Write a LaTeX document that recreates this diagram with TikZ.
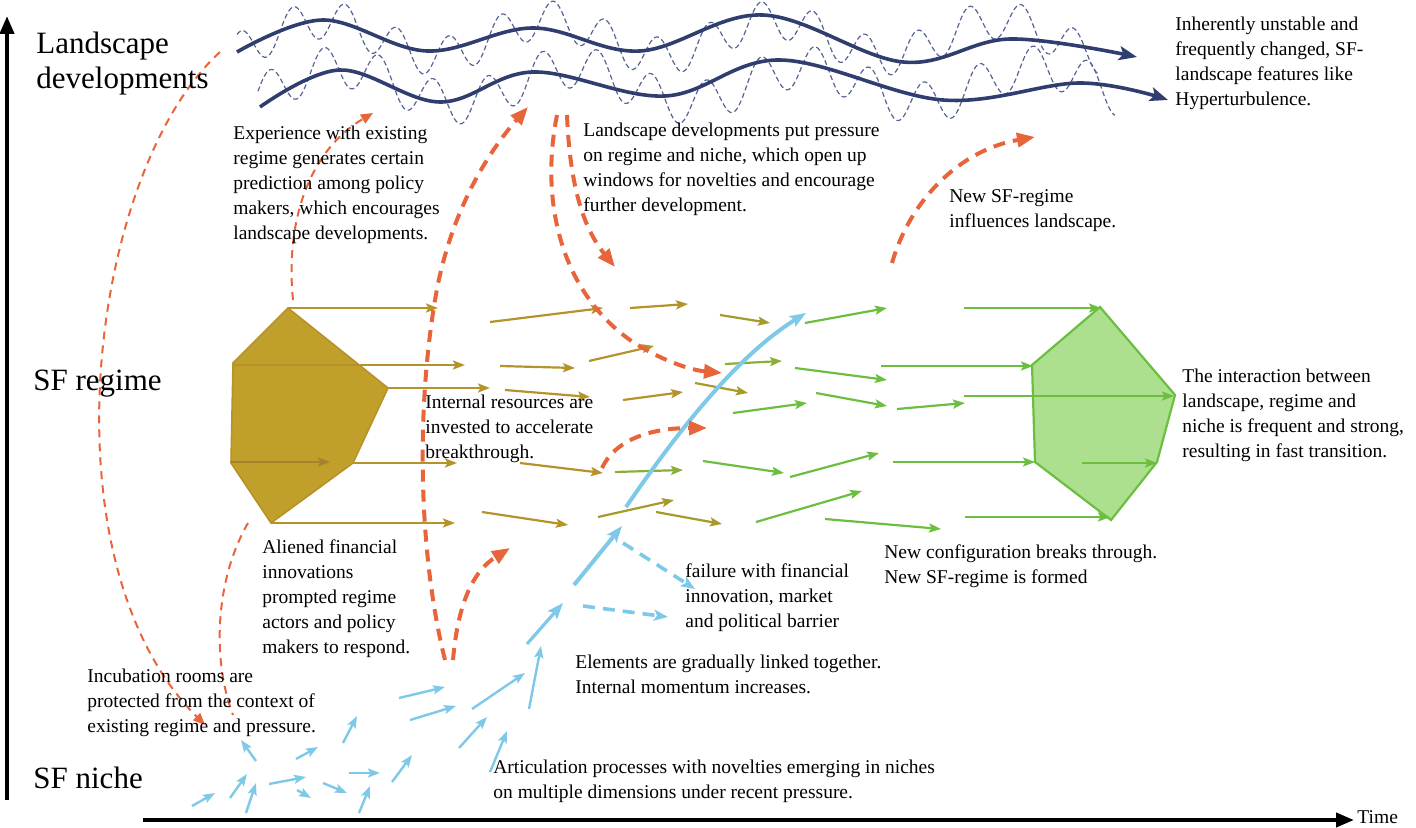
\documentclass[tikz,border=0pt]{standalone}
\usepackage{fontspec}
\setmainfont{Liberation Serif}
\usetikzlibrary{arrows.meta}
\definecolor{navy}{RGB}{47,62,110}
\definecolor{navyl}{RGB}{85,100,148}
\definecolor{orng}{RGB}{232,100,58}
\definecolor{gold}{RGB}{192,160,42}
\definecolor{goldln}{RGB}{182,146,42}
\definecolor{goldin}{RGB}{165,130,48}
\definecolor{olv}{RGB}{165,155,45}
\definecolor{olvg}{RGB}{138,175,55}
\definecolor{grn}{RGB}{108,190,64}
\definecolor{grnf}{RGB}{172,224,142}
\definecolor{sky}{RGB}{126,200,232}
\begin{document}
\begin{tikzpicture}[x=0.5pt,y=-0.5pt,
  txt/.style={anchor=base west, inner sep=0pt, align=left, font=\fontsize{9.75pt}{12.5pt}\selectfont, text=black},
  big/.style={anchor=base west, inner sep=0pt, align=left, font=\fontsize{15.5pt}{17.5pt}\selectfont, text=black},
  thintip/.style={-{Stealth[length=6pt,width=4.5pt,inset=1.2pt]}},
  ga/.style={draw=goldln, line width=1.1pt, thintip},
  gi/.style={draw=goldin, line width=1.1pt, thintip},
  oa/.style={draw=olv, line width=1.1pt, thintip},
  og/.style={draw=olvg, line width=1.1pt, thintip},
  gr/.style={draw=grn, line width=1.1pt, thintip},
  ba/.style={draw=sky, line width=1.2pt, thintip},
  bthick/.style={draw=sky, line width=2pt, -{Stealth[length=8pt,width=6pt,inset=1.5pt]}},
  bdash/.style={draw=sky, line width=1.8pt, dash pattern=on 6pt off 4pt, -{Stealth[length=7pt,width=5.5pt,inset=1.5pt]}},
  othick/.style={draw=orng, line width=2pt, dash pattern=on 6pt off 4pt, -{Triangle[length=9pt,width=7pt]}},
  othin/.style={draw=orng, line width=1pt, dash pattern=on 4pt off 3pt},
  axis/.style={draw=black, line width=2pt, -{Triangle[length=9pt,width=7pt]}},
  wave/.style={draw=navy, line width=1.8pt, -{Stealth[length=9pt,width=7pt,inset=2pt]}},
  dwave/.style={draw=navyl, line width=0.6pt, dash pattern=on 2.5pt off 1.5pt}
]
\useasboundingbox (0,0) rectangle (1416,828);

% axes
\coordinate (yb) at (7,800);
\coordinate (yt) at (7,16);
\coordinate (xl) at (143,820);
\coordinate (xr) at (1354,820);
\draw[axis] (yb) -- (yt);
\draw[axis] (xl) -- (xr);

% landscape waves
\draw[dwave, domain=237:1100, samples=500, smooth] plot (\x, {38-18*cos((\x-323)*1.6)+19*sin((\x-267)*6.92+90)});
\draw[dwave, domain=258:1115, samples=500, smooth] plot (\x, {85-18*cos((\x-340)*1.55)+21*sin((\x-297)*6.6+90)});
\draw[wave] plot[smooth, tension=0.6] coordinates {(237,52) (323,20) (427,51) (533,28) (640,51) (763,15) (903,62) (1010,39) (1137,57)};
\draw[wave] plot[smooth, tension=0.6] coordinates {(260,107) (340,70) (440,102) (533,72) (665,96) (780,60) (943,100) (1080,83) (1168,100)};

% regime pentagon (old)
\coordinate (p1) at (288,308);
\coordinate (p2) at (388,388);
\coordinate (p3) at (353,463);
\coordinate (p4) at (271,523);
\coordinate (p5) at (231,463);
\coordinate (p6) at (233,363);
\filldraw[fill=gold, draw=goldln, line width=0.8pt] (p1) -- (p2) -- (p3) -- (p4) -- (p5) -- (p6) -- cycle;

% new regime pentagon
\coordinate (q1) at (1100,307);
\coordinate (q2) at (1175,395);
\coordinate (q3) at (1157,462);
\coordinate (q4) at (1111,520);
\coordinate (q5) at (1035,462);
\coordinate (q6) at (1032,365);
\filldraw[fill=grnf, draw=grn, line width=1.1pt] (q1) -- (q2) -- (q3) -- (q4) -- (q5) -- (q6) -- cycle;

% gold arrows
\foreach \a/\b/\c/\d in {288/308/438/308, 233/365/465/365, 388/388/490/388, 353/463/457/463, 271/523/455/523,
  490/322/603/308, 500/366/575/368, 505/390/590/397, 520/463/603/473, 482/512/568/525,
  630/308/688/304, 589/361/654/346, 623/400/683/392}
  \draw[ga] (\a,\b) -- (\c,\d);
\draw[gi] (231,462) -- (330,462);
% olive arrows
\foreach \a/\b/\c/\d in {720/315/770/323, 695/383/748/393, 598/517/674/500, 656/512/722/524}
  \draw[oa] (\a,\b) -- (\c,\d);
\foreach \a/\b/\c/\d in {725/364/782/361, 615/472/683/470}
  \draw[og] (\a,\b) -- (\c,\d);
% green arrows
\foreach \a/\b/\c/\d in {805/323/887/308, 795/368/887/380, 816/393/887/406, 733/413/807/403, 897/409/965/403,
  703/461/784/473, 790/477/879/453, 756/522/862/491, 825/519/941/529,
  964/308/1101/308, 881/366/1033/366, 964/396/1174/396, 893/462/1035/462, 1082/463/1157/463, 965/517/1110/517}
  \draw[gr] (\a,\b) -- (\c,\d);

% niche arrows
\foreach \a/\b/\c/\d in {192/806/215/793, 230/798/247/774, 246/813/256/783, 256/761/241/740, 269/784/306/777,
  297/790/311/798, 296/759/318/747, 323/783/347/793, 343/743/357/716, 349/773/380/773, 359/813/370/786,
  392/782/412/755, 399/698/445/687, 410/720/456/706, 459/748/487/717, 472/709/525/673, 490/772/507/731,
  529/709/541/646}
  \draw[ba] (\a,\b) -- (\c,\d);
\draw[bthick, line width=1.6pt] (527,644) -- (563,603);
\draw[bthick] (574,585) -- (622,526);
\draw[bthick] (626,507) .. controls (665,450) and (730,360) .. (806,313);
\draw[bdash] (623,543) -- (695,589);
\draw[bdash] (583,606) -- (668,617);

% orange interaction arcs
\draw[othin, -{Triangle[length=6pt,width=5pt]}] (220,52) .. controls (90,170) and (40,560) .. (205,725);
\draw[othin, -{Triangle[length=6pt,width=5pt]}] (293,300) .. controls (285,220) and (310,150) .. (373,113);
\draw[othin] (248,523) .. controls (215,580) and (212,660) .. (233,715);
\draw[othick] (445,660) .. controls (420,560) and (415,420) .. (435,300) .. controls (450,210) and (490,150) .. (528,107);
\draw[othick] (453,660) .. controls (458,600) and (475,570) .. (510,548);
\draw[othick] (557,115) .. controls (540,200) and (560,290) .. (630,340) .. controls (660,360) and (690,370) .. (722,373);
\draw[othick] (567,115) .. controls (570,190) and (585,230) .. (615,267);
\draw[othick] (892,263) .. controls (910,200) and (960,150) .. (1035,137);
\draw[othick] (602,468) .. controls (615,440) and (650,428) .. (707,428);

% labels (anchor = baseline of the last line)
\node[big] (lland) at (36,89) {Landscape\\developments};
\node[big] (lreg) at (33,390) {SF regime};
\node[big] (lniche) at (33,788) {SF niche};
\node[txt] (ttime) at (1357,823) {Time};

\node[txt] (t1) at (233,240) {Experience with existing\\regime generates certain\\prediction among policy\\makers, which encourages\\landscape developments.};
\node[txt] (t2) at (583,212) {Landscape developments put pressure\\on regime and niche, which open up\\windows for novelties and encourage\\further development.};
\node[txt] (t3) at (1175,106) {Inherently unstable and\\frequently changed, SF-\\landscape features like\\Hyperturbulence.};
\node[txt] (t4) at (949,228) {New SF-regime\\influences landscape.};
\node[txt] (t5) at (425,458) {Internal resources are\\invested to accelerate\\breakthrough.};
\node[txt] (t6) at (1182,457) {The interaction between\\landscape, regime and\\niche is frequent and strong,\\resulting in fast transition.};
\node[txt] (t7) at (262,653) {Aliened financial\\innovations\\prompted regime\\actors and policy\\makers to respond.};
\node[txt] (t8) at (884,583) {New configuration breaks through.\\New SF-regime is formed};
\node[txt] (t9) at (685,627) {failure with financial\\innovation, market\\and political barrier};
\node[txt] (t10) at (575,693) {Elements are gradually linked together.\\Internal momentum increases.};
\node[txt] (t11) at (87,732) {Incubation rooms are\\protected from the context of\\existing regime and pressure.};
\node[txt] (t12) at (493,798) {Articulation processes with novelties emerging in niches\\on multiple dimensions under recent pressure.};
\end{tikzpicture}
\end{document}
